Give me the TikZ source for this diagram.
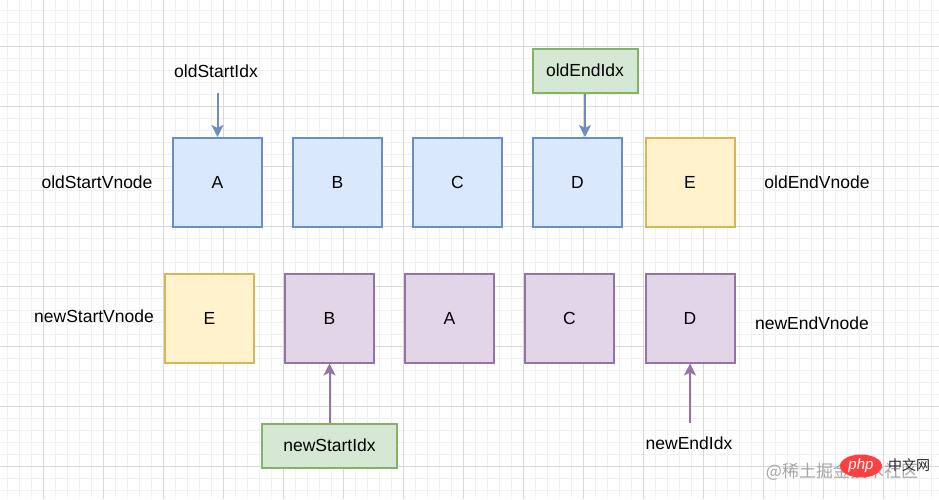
\documentclass[tikz,border=0pt]{standalone}
\usepackage{fontspec}
\setmainfont{Liberation Sans}
\newfontfamily\cjkfont{Noto Sans CJK SC}
\usetikzlibrary{arrows.meta,shapes.geometric}
\definecolor{blueFill}{HTML}{DAE8FC}
\definecolor{blueLine}{HTML}{6C8EBF}
\definecolor{yellowFill}{HTML}{FFF2CC}
\definecolor{yellowLine}{HTML}{D6B656}
\definecolor{purpleFill}{HTML}{E1D5E7}
\definecolor{purpleLine}{HTML}{9673A6}
\definecolor{greenFill}{HTML}{D5E8D4}
\definecolor{greenLine}{HTML}{82B366}
\definecolor{minorGrid}{HTML}{F0F0F0}
\definecolor{majorGrid}{HTML}{D8D8D8}
\tikzset{
  vnode/.style={draw, line width=2pt, minimum size=89pt, inner sep=0pt},
  oldbox/.style={vnode, fill=blueFill, draw=blueLine},
  movebox/.style={vnode, fill=yellowFill, draw=yellowLine},
  newbox/.style={vnode, fill=purpleFill, draw=purpleLine},
  idxbox/.style={draw=greenLine, fill=greenFill, line width=2pt, minimum height=44pt, inner sep=0pt},
  label/.style={inner sep=0pt},
  oldarrow/.style={draw=blueLine, line width=2pt, -{Stealth[length=12pt,width=12pt,inset=3pt]}},
  newarrow/.style={draw=purpleLine, line width=2pt, -{Stealth[length=12pt,width=12pt,inset=3pt]}}
}
\begin{document}
\begin{tikzpicture}[x=1pt,y=-1pt,font=\fontsize{17.5}{21}\selectfont]
\useasboundingbox[fill=white] (0,0) rectangle (939,499);
% grid
\foreach \x in {7,19,...,939} \draw[minorGrid,line width=1pt] (\x,0) -- (\x,499);
\foreach \y in {10,22,...,499} \draw[minorGrid,line width=1pt] (0,\y) -- (939,\y);
\foreach \x in {43,103,...,939} \draw[majorGrid,line width=1pt] (\x,0) -- (\x,499);
\foreach \y in {46,106,...,499} \draw[majorGrid,line width=1pt] (0,\y) -- (939,\y);

% old vnodes
\node[oldbox] (oA) at (217.5,182.5) {A};
\node[oldbox] (oB) at (337.5,182.5) {B};
\node[oldbox] (oC) at (457.5,182.5) {C};
\node[oldbox] (oD) at (577.5,182.5) {D};
\node[movebox] (oE) at (690,182.5) {E};
\node[label] (oldStartVnode) at (97,182) {oldStartVnode};
\node[label] (oldEndVnode) at (817,182) {oldEndVnode};

% new vnodes
\node[movebox] (nE) at (209.5,318) {E};
\node[newbox] (nB) at (329.5,318) {B};
\node[newbox] (nA) at (449.5,318) {A};
\node[newbox] (nC) at (569.5,318) {C};
\node[newbox] (nD) at (690,318) {D};
\node[label] (newStartVnode) at (94,316) {newStartVnode};
\node[label] (newEndVnode) at (812,323) {newEndVnode};

% pointers
\node[label] (oldStartIdx) at (216,71) {oldStartIdx};
\coordinate (oldStartTail) at (217.5,93);
\draw[oldarrow] (oldStartTail) -- (oA.north);
\node[idxbox, minimum width=105pt] (oldEndIdx) at (585,70.5) {oldEndIdx};
\draw[oldarrow] (oldEndIdx.south) -- (oldEndIdx.south |- oD.north);
\node[idxbox, minimum width=135pt] (newStartIdx) at (329.5,445.5) {newStartIdx};
\draw[newarrow] (newStartIdx.north) -- (nB.south);
\node[label] (newEndIdx) at (689,443) {newEndIdx};
\coordinate (newEndTail) at (690,423);
\draw[newarrow] (newEndTail) -- (nD.south);

% watermark
\node[label, text=black!35, font=\cjkfont\fontsize{17}{20}\selectfont] (mark) at (842,472) {@稀土掘金技术社区};
\node[ellipse, fill=red!75!white, minimum width=42pt, minimum height=23pt, inner sep=0pt, text=white, font=\fontsize{15}{16}\itshape\selectfont] (php) at (861,466) {php};
\node[label, text=black!85, font=\cjkfont\fontsize{14}{16}\selectfont] (cn) at (909,465) {中文网};
\end{tikzpicture}
\end{document}
